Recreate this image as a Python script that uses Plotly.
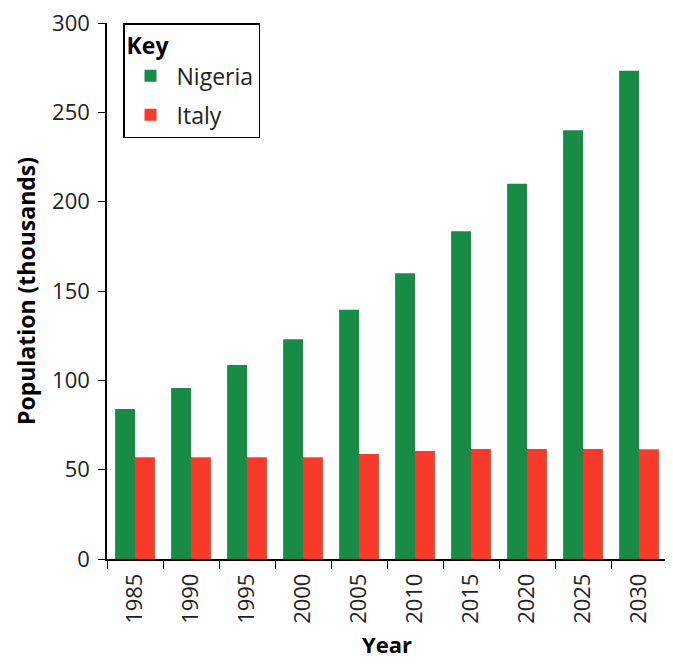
import plotly.graph_objects as go

years = ["1985", "1990", "1995", "2000", "2005", "2010", "2015", "2020", "2025", "2030"]
nigeria = [84, 95.7, 108.6, 123, 139.5, 160, 183.5, 210, 240, 273.3]
italy = [57, 57, 57, 57, 58.8, 60.4, 61.5, 61.6, 61.5, 61.4]

FONT = "Open Sans"
fig = go.Figure()
fig.add_trace(go.Bar(x=years, y=nigeria, name="Nigeria", legendgroup="a",
                     marker=dict(color="#178c47", line=dict(width=0))))
fig.add_trace(go.Bar(x=years, y=italy, name="Italy", legendgroup="b",
                     marker=dict(color="#f93a2a", line=dict(width=0))))

fig.update_layout(
    width=673, height=659,
    margin=dict(l=99, r=14, t=15, b=108),
    paper_bgcolor="white", plot_bgcolor="white",
    barmode="group", bargap=0.29, bargroupgap=0,
    font=dict(family=FONT, size=22, color="#222"),
    showlegend=True,
    legend=dict(
        title=dict(text="<b>Key</b>", font=dict(size=23, color="black")),
        x=0.0286, y=1.0, xanchor="left", yanchor="top",
        bordercolor="black", borderwidth=1.5, bgcolor="white",
        font=dict(size=23, color="#222"), itemwidth=42,
        traceorder="grouped", tracegroupgap=6,
    ),
    xaxis=dict(
        type="category", showline=True, linecolor="black", linewidth=1.5,
        ticks="outside", tickson="boundaries", ticklen=8, tickcolor="black",
        tickangle=-90, tickfont=dict(size=22, color="#222"), ticklabelstandoff=4,
        automargin=False,
        title=dict(text="<b>Year</b>", font=dict(size=22, color="black")),
        showgrid=False, zeroline=False,
    ),
    yaxis=dict(
        range=[0, 300], tickvals=[0, 50, 100, 150, 200, 250, 300],
        showline=True, linecolor="black", linewidth=1.5,
        ticks="outside", ticklen=7, tickcolor="black",
        tickfont=dict(size=22, color="#222"), ticklabelstandoff=4,
        ticklabeloverflow="allow", automargin="left+right",
        title=dict(text="<b>Population (thousands)</b>", font=dict(size=23, color="black"), standoff=10),
        showgrid=False, zeroline=False,
    ),
)
fig.write_html("out.html")
